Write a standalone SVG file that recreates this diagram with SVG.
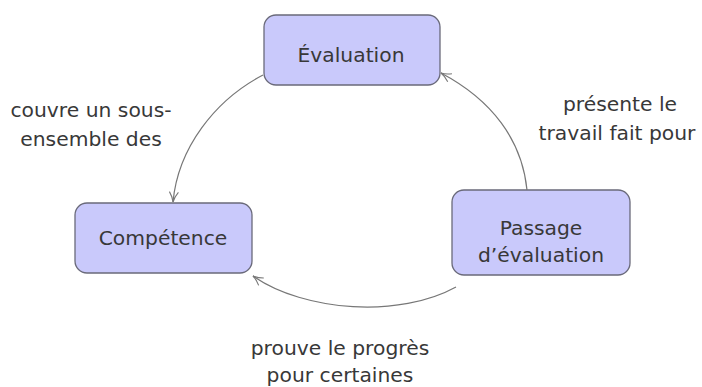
<svg xmlns="http://www.w3.org/2000/svg" width="702" height="387" viewBox="0 0 702 387">
<defs>
<style>
.node rect{fill:#c9c9fb;stroke:#6a6a7a;stroke-width:1.3}
text{font-family:"DejaVu Sans","Liberation Sans",sans-serif;font-size:20.3px;fill:#383838;text-anchor:middle}
.edge{fill:none;stroke:#777;stroke-width:1.2;marker-end:url(#arr)}
</style>
<marker id="arr" viewBox="0 0 12 12" refX="11" refY="6" markerWidth="12" markerHeight="12" markerUnits="userSpaceOnUse" orient="auto">
<path d="M1,1.5 Q6,5 11,6 Q6,7 1,10.5" fill="none" stroke="#777" stroke-width="1.1"/>
</marker>
</defs>
<rect width="702" height="387" fill="#fff"/>
<g id="evaluation" class="node">
<rect x="264" y="15" width="176" height="70" rx="12"/>
<text x="351" y="62">Évaluation</text>
</g>
<g id="competence" class="node">
<rect x="75" y="203" width="177" height="70" rx="12"/>
<text x="163" y="245">Compétence</text>
</g>
<g id="passage" class="node">
<rect x="452" y="190" width="178" height="85" rx="12"/>
<text x="541" y="235">Passage</text>
<text x="541" y="262">d’évaluation</text>
</g>
<g id="connectors">
<path class="edge" d="M263,75 C215,100 178,148 173,202"/>
<path class="edge" d="M527,190 C522,140 492,100 441,73"/>
<path class="edge" d="M456,287 C400,318 305,312 253,276"/>
</g>
<g id="labels">
<text x="91" y="117">couvre un sous-</text>
<text x="91" y="146">ensemble des</text>
<text x="620" y="111">présente le</text>
<text x="617" y="140">travail fait pour</text>
<text x="340" y="355">prouve le progrès</text>
<text x="340" y="382">pour certaines</text>
</g>
</svg>
